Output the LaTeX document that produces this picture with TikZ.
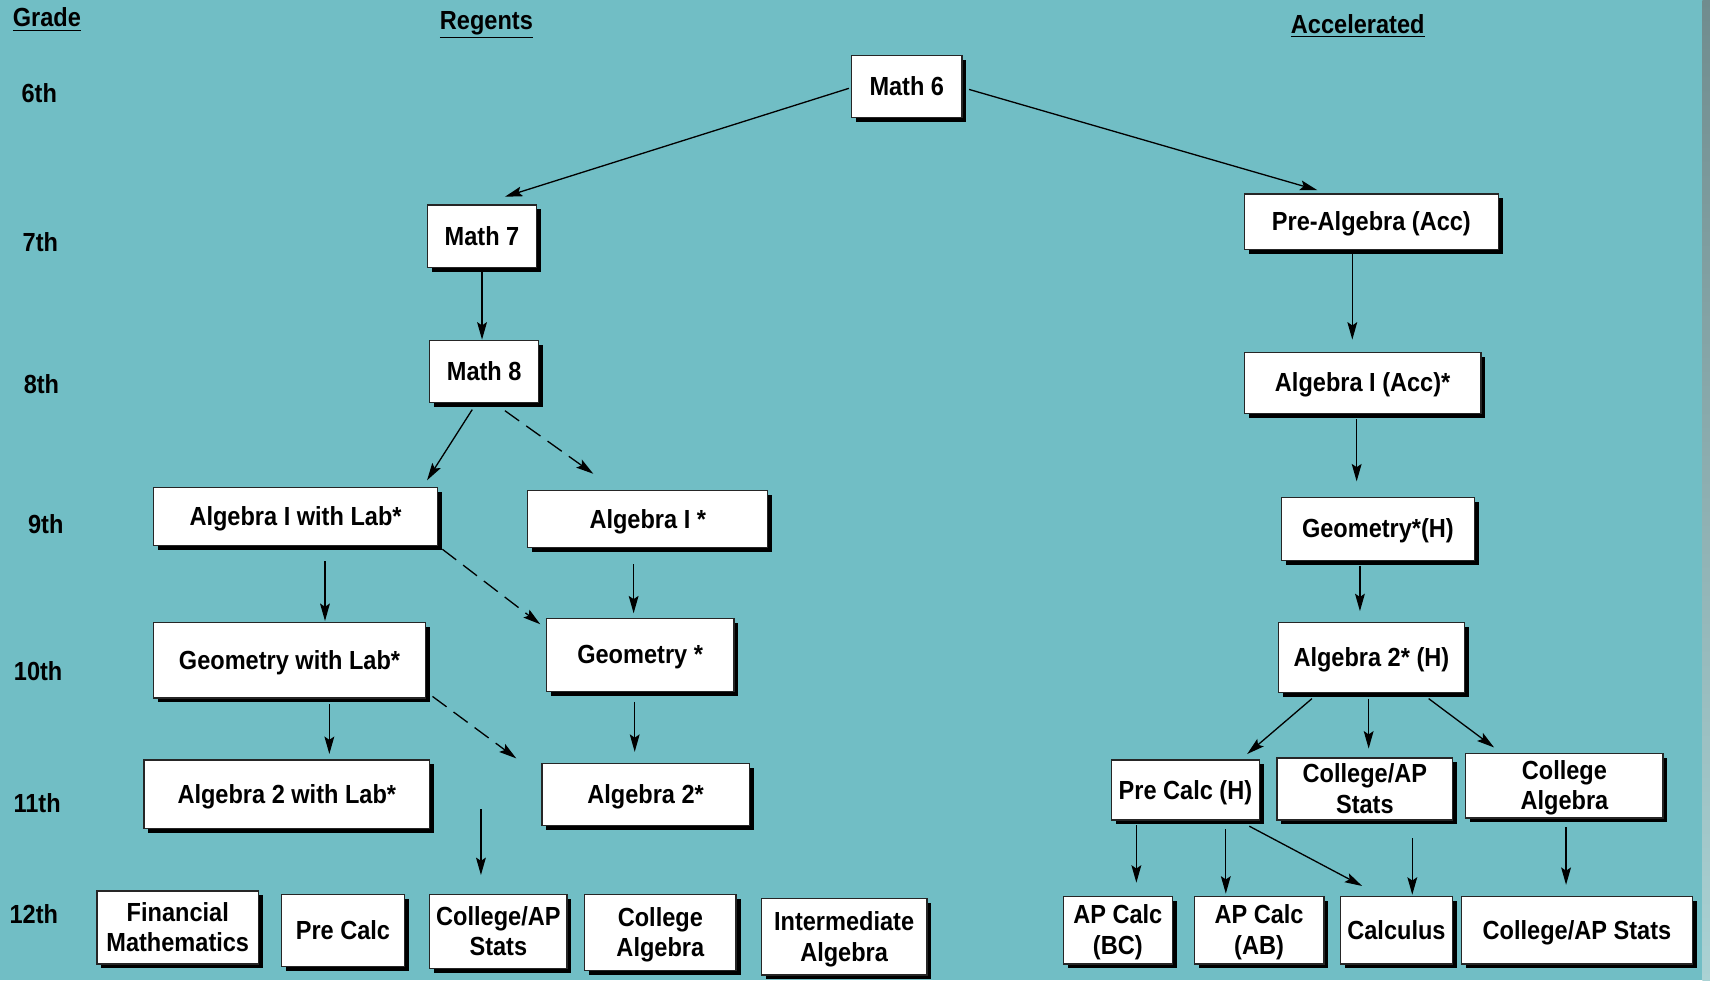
\documentclass[tikz,border=0pt]{standalone}
\usepackage{fontspec}
\setmainfont[FakeStretch=0.9]{Liberation Sans}
\usetikzlibrary{shadows,arrows.meta,calc}
\definecolor{bgteal}{RGB}{113,190,197}
\definecolor{edgetop}{RGB}{112,140,142}
\definecolor{edgebot}{RGB}{170,210,212}
\newcommand{\boxfont}{\fontsize{12pt}{14pt}\selectfont\bfseries}
\tikzset{
  box/.style={draw=black!85, fill=white, line width=0.6pt, inner sep=2pt, align=center,
    font=\boxfont, text depth=0.5pt,
    drop shadow={shadow xshift=2pt, shadow yshift=-2pt, fill=black, opacity=1}},
  lbl/.style={font=\boxfont, inner sep=0pt},
  arr/.style={line width=0.6pt, -{Stealth[length=8pt,width=4.5pt,inset=1.5pt]}},
  dsh/.style={arr, dash pattern=on 8pt off 4pt}
}
\begin{document}
\begin{tikzpicture}[x=0.5pt,y=-0.5pt]
\useasboundingbox (0,0) rectangle (1568,899);
\fill[bgteal] (0,0) rectangle (1568,899);
\shade[top color=edgetop, bottom color=edgebot] (1561,0) rectangle (1568,899);

% headers
\node[lbl] (hgrade) at (43,18) {\underline{Grade}};
\node[lbl] (hreg) at (446,23) {\underline{Regents}};
\node[lbl] (hacc) at (1245,24) {\underline{Accelerated}};

% grade labels
\node[lbl] (g6) at (36,85) {6th};
\node[lbl] (g7) at (37,222) {7th};
\node[lbl] (g8) at (38,352) {8th};
\node[lbl] (g9) at (42,481) {9th};
\node[lbl] (g10) at (35,615) {10th};
\node[lbl] (g11) at (34,736) {11th};
\node[lbl] (g12) at (31,838) {12th};

% regents
\node[box, minimum width=50.5pt, minimum height=28.5pt] (m6) at (831.5,79.5) {Math 6};
\node[box, minimum width=50pt, minimum height=28.5pt] (m7) at (442,216.5) {Math 7};
\node[box, minimum width=50pt, minimum height=28.5pt] (m8) at (444,340.5) {Math 8};
\node[box, minimum width=130pt, minimum height=26.5pt] (a1lab) at (271,473.5) {Algebra I with Lab*};
\node[box, minimum width=110pt, minimum height=26pt] (a1) at (594,476) {Algebra I *};
\node[box, minimum width=124.5pt, minimum height=34.5pt] (geolab) at (265.5,605.5) {Geometry with Lab*};
\node[box, minimum width=86pt, minimum height=33.5pt] (geo) at (587,600.5) {Geometry *};
\node[box, minimum width=131pt, minimum height=31.5pt] (a2lab) at (263,728.5) {Algebra 2 with Lab*};
\node[box, minimum width=95pt, minimum height=28.5pt] (a2) at (592,728.5) {Algebra 2*};
\node[box, minimum width=74pt, minimum height=33.5pt] (fin) at (163,850.5) {Financial\\Mathematics};
\node[box, minimum width=56.5pt, minimum height=33pt] (pc) at (314.5,853) {Pre Calc};
\node[box, minimum width=63pt, minimum height=34pt] (cap) at (457,854) {College/AP\\Stats};
\node[box, minimum width=69.5pt, minimum height=35pt] (ca) at (605.5,855) {College\\Algebra};
\node[box, minimum width=76pt, minimum height=35pt] (ia) at (774,859) {Intermediate\\Algebra};

% accelerated
\node[box, minimum width=116.5pt, minimum height=25.5pt] (pa) at (1257.5,203.5) {Pre-Algebra (Acc)};
\node[box, minimum width=108.5pt, minimum height=28pt] (a1acc) at (1249.5,351) {Algebra I (Acc)*};
\node[box, minimum width=88.5pt, minimum height=29pt] (geoh) at (1263.5,485) {Geometry*(H)};
\node[box, minimum width=85.5pt, minimum height=32pt] (a2h) at (1257.5,603) {Algebra 2* (H)};
\node[box, minimum width=68pt, minimum height=27.5pt] (pch) at (1087,724.5) {Pre Calc (H)};
\node[box, minimum width=80.5pt, minimum height=28.5pt] (caps) at (1251.5,723.5) {College/AP\\Stats};
\node[box, minimum width=90.5pt, minimum height=29.5pt] (calg) at (1434.5,720.5) {College\\Algebra};
\node[box, minimum width=50pt, minimum height=31pt] (bc) at (1025,853) {AP Calc\\(BC)};
\node[box, minimum width=59.5pt, minimum height=31pt] (ab) at (1154.5,853) {AP Calc\\(AB)};
\node[box, minimum width=51.5pt, minimum height=31pt] (calc) at (1280.5,853) {Calculus};
\node[box, minimum width=106pt, minimum height=31pt] (caps2) at (1446,853) {College/AP Stats};

\coordinate (free) at (441,742);

% regents connectors
\draw[arr] ($(m6.west)+(-2,1.5)$) -- ($(m7.north)+(21,-7)$);
\draw[arr] ($(m6.east)+(6,2.5)$) -- ($(pa.north)+(-49.5,-3)$);
\draw[arr] (m7.south) -- ($(m8.north)+(-2,0)$);
\draw[arr] ($(m8.south)+(-11,6)$) -- ($(a1lab.north east)+(-10,-6)$);
\draw[dsh] ($(m8.south)+(19,7)$) -- ($(a1.north)+(-50,-15)$);
\draw[arr] ($(a1lab.south)+(27,14)$) -- ($(geolab.north)+(32.5,-1)$);
\draw[dsh] ($(a1lab.south east)+(4,3)$) -- ($(geo.north west)+(-5,6)$);
\draw[arr] ($(a1.south)+(-13,15)$) -- ($(geo.north)+(-6,-4)$);
\draw[arr] ($(geolab.south)+(36.5,5)$) -- ($(a2lab.north)+(39,-5)$);
\draw[dsh] ($(geolab.south east)+(6,-2)$) -- ($(a2.north west)+(-23,-4)$);
\draw[arr] ($(geo.south)+(-5,9)$) -- ($(a2.north)+(-10,-10)$);
\draw[arr] (free) -- ($(cap.north)+(-16,-17)$);

% accelerated connectors
\draw[arr] ($(pa.south)+(-17.5,3)$) -- ($(a1acc.north)+(-9.5,-11)$);
\draw[arr] ($(a1acc.south)+(-5.5,5)$) -- ($(geoh.north)+(-19.5,-14)$);
\draw[arr] ($(geoh.south)+(-16.5,4)$) -- ($(a2h.north)+(-10.5,-10)$);
\draw[arr] ($(a2h.south)+(-54.5,5)$) -- ($(pch.north east)+(-12,-5)$);
\draw[arr] ($(a2h.south)+(-2.5,5)$) -- ($(caps.north)+(3.5,-8)$);
\draw[arr] ($(a2h.south)+(52.5,5)$) -- ($(calg.north)+(-64.5,-5)$);
\draw[arr] ($(pch.south)+(-45,4)$) -- ($(bc.north)+(17,-12)$);
\draw[arr] ($(pch.south)+(37,8)$) -- ($(ab.north)+(-30.5,-2)$);
\draw[arr] ($(pch.south east)+(-10,5)$) -- ($(calc.north)+(-31.5,-9)$);
\draw[arr] ($(caps.south)+(43.5,16)$) -- ($(calc.north)+(14.5,-1)$);
\draw[arr] ($(calg.south)+(1.5,8)$) -- ($(caps2.north)+(-10,-10)$);
\end{tikzpicture}
\end{document}
